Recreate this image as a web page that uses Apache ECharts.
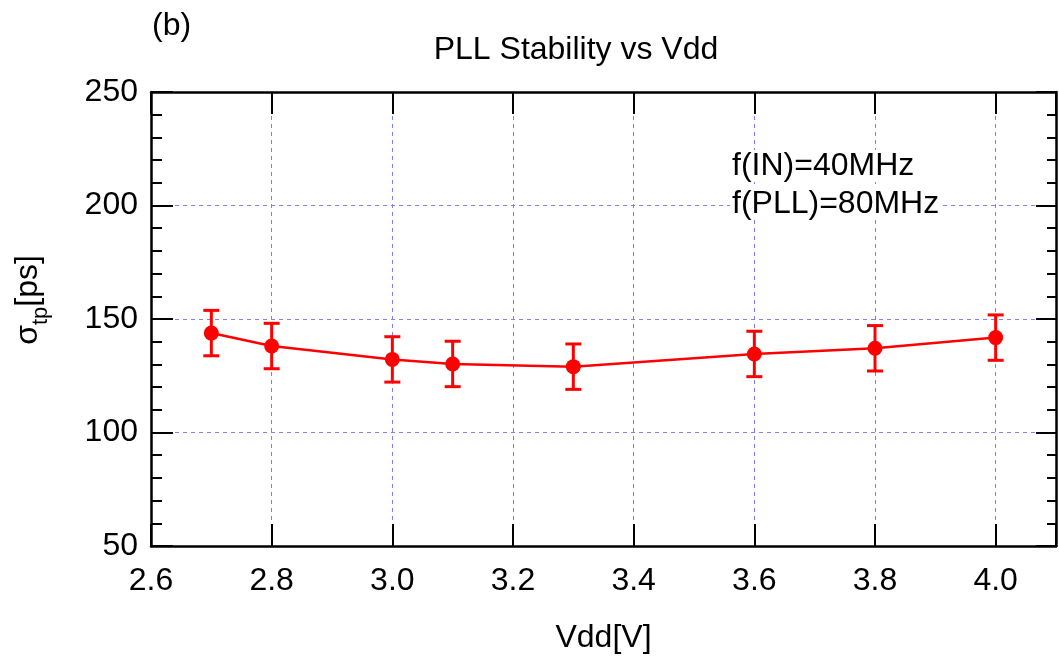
<!DOCTYPE html>
<html>
<head>
<meta charset="utf-8">
<script src="https://cdn.jsdelivr.net/npm/echarts@6/dist/echarts.min.js"></script>
<style>html,body{margin:0;padding:0;background:#fff;}#main{width:1059px;height:659px;}</style>
</head>
<body>
<div id="main"></div>
<script>
const vdd = [2.7, 2.8, 3.0, 3.1, 3.3, 3.6, 3.8, 4.0];
const sigma = [143.8, 138.1, 132.2, 130.2, 129.0, 134.6, 137.1, 141.8];
const errHalf = [10, 10, 10, 10, 10, 10, 10, 10];
const titleText = 'PLL Stability vs Vdd';
const panelLabel = '(b)';
const noteLines = ['f(IN)=40MHz', 'f(PLL)=80MHz'];
const xName = 'Vdd[V]';

const FONT = 'Liberation Sans, Arial, sans-serif';
const FS = 32;
const chart = echarts.init(document.getElementById('main'), null, {renderer: 'canvas'});

const lineData = vdd.map((x, i) => [x, sigma[i]]);
const errData = vdd.map((x, i) => [x, sigma[i] - errHalf[i], sigma[i] + errHalf[i]]);

const gridLine = {show: true, lineStyle: {color: '#8080ff', width: 1, type: [4, 4]}};
const axisLineStyle = {show: true, lineStyle: {color: '#000', width: 2.5}};

function xFmt(v) {
  const k = Math.round(v * 5);
  return Math.abs(v * 5 - k) < 1e-6 ? v.toFixed(1) : '';
}

chart.setOption({
  animation: false,
  backgroundColor: '#fff',
  title: {
    text: titleText,
    left: 571, top: 29, textAlign: 'center',
    textStyle: {fontFamily: FONT, fontSize: FS, fontWeight: 'normal', color: '#000'}
  },
  grid: {left: 151, right: 3, top: 92, bottom: 113, containLabel: false},
  xAxis: [{
    type: 'value', min: 2.6, max: 4.1, interval: 0.2, position: 'bottom',
    name: xName, nameLocation: 'middle', nameGap: 76,
    nameTextStyle: {fontFamily: FONT, fontSize: FS, color: '#000'},
    axisLine: axisLineStyle,
    axisTick: {show: true, inside: true, length: 22, lineStyle: {color: '#000', width: 2}},
    axisLabel: {fontFamily: FONT, fontSize: FS, color: '#000', margin: 19, formatter: xFmt},
    splitLine: gridLine
  }, {
    type: 'value', min: 2.6, max: 4.1, interval: 0.2, position: 'top',
    axisLine: axisLineStyle,
    axisTick: {show: true, inside: true, length: 22, lineStyle: {color: '#000', width: 2}},
    axisLabel: {show: false},
    splitLine: {show: false}
  }],
  yAxis: [{
    type: 'value', min: 50, max: 250, interval: 50, position: 'left',
    axisLine: axisLineStyle,
    axisTick: {show: true, inside: true, length: 22, lineStyle: {color: '#000', width: 2}},
    minorTick: {show: true, splitNumber: 5, length: 11, lineStyle: {color: '#000', width: 2}},
    axisLabel: {fontFamily: FONT, fontSize: FS, color: '#000', margin: 13},
    splitLine: gridLine
  }, {
    type: 'value', min: 50, max: 250, interval: 50, position: 'right',
    axisLine: axisLineStyle,
    axisTick: {show: true, inside: true, length: 20, lineStyle: {color: '#000', width: 2}},
    minorTick: {show: true, splitNumber: 5, length: 9, lineStyle: {color: '#000', width: 2}},
    axisLabel: {show: false},
    splitLine: {show: false}
  }],
  graphic: [
    {type: 'text', left: 152, top: 10, style: {text: panelLabel, font: FS + 'px ' + FONT, fill: '#000'}},
    {type: 'text', left: 730, top: 150, z: 10,
      style: {text: noteLines[0], font: FS + 'px ' + FONT, fill: '#000', backgroundColor: '#fff', padding: [0, 2, 0, 2]}},
    {type: 'text', left: 730, top: 188, z: 10,
      style: {text: noteLines[1], font: FS + 'px ' + FONT, fill: '#000', backgroundColor: '#fff', padding: [0, 2, 0, 2]}},
    {type: 'text', x: 30, y: 300, rotation: Math.PI / 2,
      style: {
        text: '{s|σ}{t|tp}{s|[ps]}',
        align: 'center', verticalAlign: 'middle',
        rich: {
          s: {fontFamily: FONT, fontSize: FS, fill: '#000', verticalAlign: 'top', lineHeight: 36, color: '#000'},
          t: {fontFamily: FONT, fontSize: 22, fill: '#000', verticalAlign: 'top', lineHeight: 24, padding: [18, 0, 0, 0], color: '#000'}
        }
      }
    }
  ],
  series: [{
    type: 'custom',
    xAxisIndex: 0, yAxisIndex: 0,
    data: errData,
    encode: {x: 0, y: [1, 2]},
    z: 2,
    renderItem: function (params, api) {
      const x = api.value(0);
      const p1 = api.coord([x, api.value(2)]);
      const p2 = api.coord([x, api.value(1)]);
      const w = 8;
      const st = {stroke: '#ff0000', lineWidth: 3};
      return {type: 'group', children: [
        {type: 'line', shape: {x1: p1[0], y1: p1[1], x2: p2[0], y2: p2[1]}, style: st},
        {type: 'line', shape: {x1: p1[0] - w, y1: p1[1], x2: p1[0] + w, y2: p1[1]}, style: st},
        {type: 'line', shape: {x1: p2[0] - w, y1: p2[1], x2: p2[0] + w, y2: p2[1]}, style: st}
      ]};
    }
  }, {
    type: 'line',
    xAxisIndex: 0, yAxisIndex: 0,
    data: lineData,
    z: 3,
    symbol: 'circle', symbolSize: 15,
    itemStyle: {color: '#ff0000'},
    lineStyle: {color: '#ff0000', width: 2.5}
  }]
});
</script>
</body>
</html>
